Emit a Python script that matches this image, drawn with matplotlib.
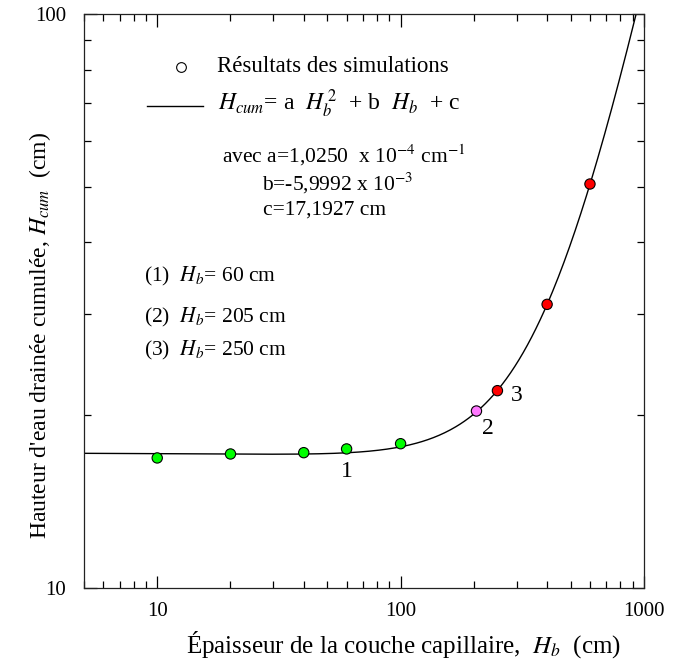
import numpy as np
import matplotlib
matplotlib.use('Agg')
import matplotlib.pyplot as plt
from matplotlib.ticker import LogLocator, NullFormatter, FixedLocator

plt.rcParams['font.family'] = ['Liberation Serif', 'DejaVu Serif']
plt.rcParams['mathtext.fontset'] = 'stix'

# simulation results: capillary layer thickness (cm) vs cumulative drained water (cm)
hb = [10, 20, 40, 60, 100, 205, 250, 400, 600]
hcum = [16.85, 17.12, 17.21, 17.47, 17.84, 20.34, 22.07, 31.2, 50.56]
colors = ['#00ff00'] * 5 + ['#ff77ff'] + ['#ff0000'] * 3

# fitted parabola H_cum = a Hb^2 + b Hb + c
a, b, c = 1.0250e-4, -5.9992e-3, 17.1927

case_idx = [3, 5, 6]
case_txt = ['1', '2', '3']
case_off = [(0, -23), (11, -17), (19, -5)]

fig = plt.figure(figsize=(6.75, 6.63), dpi=100)
ax = fig.add_axes([0.1244, 0.1131, 0.8296, 0.8658])
ax.set_xscale('log')
ax.set_yscale('log')
ax.set_xlim(5, 1000)
ax.set_ylim(10, 100)

xf = np.logspace(np.log10(5), np.log10(1000), 400)
ax.plot(xf, a * xf**2 + b * xf + c, color='black', lw=1.0, zorder=2)
ax.scatter(hb, hcum, s=55, c=colors, edgecolors='black', linewidths=0.8, zorder=3)

for i, t, off in zip(case_idx, case_txt, case_off):
    ax.annotate(t, (hb[i], hcum[i]), xytext=off, textcoords='offset pixels',
                ha='center', va='center', fontsize=17)

# ticks
ax.xaxis.set_major_locator(FixedLocator([10, 100, 1000]))
ax.xaxis.set_minor_locator(LogLocator(base=10, subs=np.arange(2, 10)))
ax.yaxis.set_major_locator(FixedLocator([10, 100]))
ax.yaxis.set_minor_locator(LogLocator(base=10, subs=np.arange(2, 10)))
ax.xaxis.set_minor_formatter(NullFormatter())
ax.yaxis.set_minor_formatter(NullFormatter())
ax.set_xticklabels(['10', '100', '1000'])
ax.set_yticklabels(['10', '100'])
ax.tick_params(which='both', direction='in', top=True, right=True,
               labelsize=15, colors='black', width=0.9)
ax.tick_params(which='major', length=9)
ax.tick_params(which='minor', length=5)
ax.tick_params(axis='x', which='major', pad=10)
ax.tick_params(axis='y', which='major', pad=13)
for s in ax.spines.values():
    s.set_linewidth(0.9)
    s.set_color('#222222')

ax.set_xlabel(r'Épaisseur de la couche capillaire,  $\mathit{H}_{\mathit{b}}$  (cm)', fontsize=18)
ax.xaxis.set_label_coords(0.57, -0.072)
ax.set_ylabel(r"Hauteur d'eau drainée cumulée, $\mathit{H}_{\mathit{cum}}$  (cm)", fontsize=17)
ax.yaxis.set_label_coords(-0.055, 0.44)

# legend block
tr = ax.transAxes
ax.plot([0.173], [0.908], 'o', ms=7, mfc='white', mec='black', mew=0.8, transform=tr)
ax.text(0.2375, 0.908, 'Résultats des simulations', fontsize=16.5, va='center', transform=tr)
ax.plot([0.1125, 0.2125], [0.840, 0.840], color='black', lw=1.0, transform=tr)
ax.text(0.24, 0.843,
        r'$\mathit{H}_{\mathit{cum}}$= a  $\mathit{H}_{\mathit{b}}^{\,2}$  + b  $\mathit{H}_{\mathit{b}}$  + c',
        fontsize=17, va='center', transform=tr)
ax.text(0.246, 0.754, r'avec a=1,0250  x 10$^{-4}$ cm$^{-1}$', fontsize=15.5, va='center', transform=tr)
ax.text(0.318, 0.7056, r'b=-5,9992 x 10$^{-3}$', fontsize=15.5, va='center', transform=tr)
ax.text(0.3196, 0.6585, 'c=17,1927 cm', fontsize=15.5, va='center', transform=tr)

cases = ['60', '205', '250']
for k, (val, yy) in enumerate(zip(cases, [0.542, 0.472, 0.4146])):
    ax.text(0.107, yy, r'(%d)  $\mathit{H}_{\mathit{b}}$= %s cm' % (k + 1, val),
            fontsize=15.5, va='center', transform=tr)

fig.savefig('out.png', dpi=100, facecolor='white')
